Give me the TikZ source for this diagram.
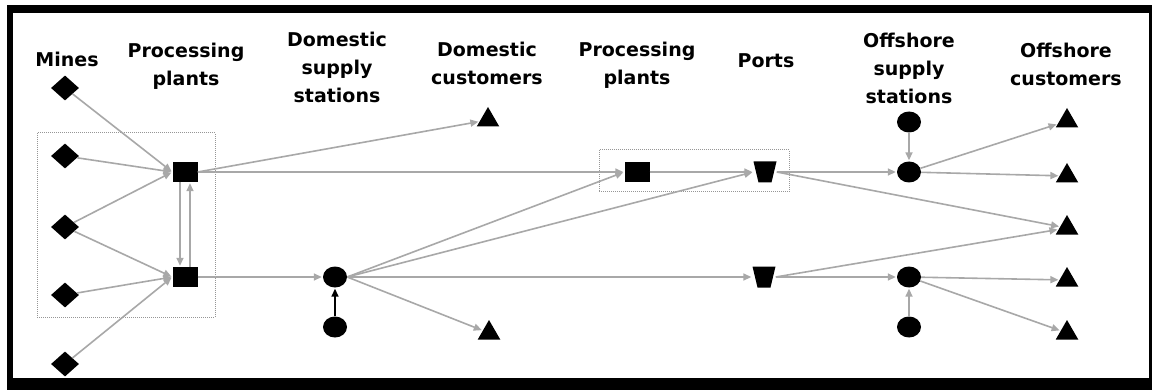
\documentclass[tikz,border=0pt]{standalone}
\usepackage{fontspec}
\setmainfont{DejaVu Sans}
\usetikzlibrary{shapes.geometric,arrows.meta}
\definecolor{flowgray}{RGB}{168,168,168}
\definecolor{boxgray}{RGB}{150,150,150}
\begin{document}
\begin{tikzpicture}[x=1pt,y=-1pt,
 mine/.style={diamond,fill=black,inner sep=0,minimum width=28pt,minimum height=25pt},
 plant/.style={rectangle,fill=black,inner sep=0,minimum width=25pt,minimum height=20pt},
 stn/.style={ellipse,fill=black,inner sep=0,minimum width=24pt,minimum height=21pt},
 cust/.style={regular polygon,regular polygon sides=3,fill=black,inner sep=0,minimum size=26pt},
 port/.style={rectangle,inner sep=0,minimum width=23pt,minimum height=21pt,
   path picture={\fill[black] (path picture bounding box.north west) -- (path picture bounding box.north east) -- ([xshift=-5pt]path picture bounding box.south east) -- ([xshift=5pt]path picture bounding box.south west) -- cycle;}},
 lbl/.style={align=center,font=\fontsize{19}{28}\selectfont\bfseries,inner sep=0,anchor=north},
 flow/.style={draw=flowgray,line width=1.6pt,-{Triangle[length=8pt,width=7pt]},shorten >=1pt},
 box/.style={draw=boxgray,line width=1pt,densely dotted}]
\useasboundingbox (0,0) rectangle (1153,390);
% frame
\fill[black] (7,5) rectangle (1152,390);
\fill[white] (13,13) rectangle (1149,378);
% labels
\node[lbl] (l1) at (67,52) {Mines};
\node[lbl] (l2) at (186,43) {Processing\\plants};
\node[lbl] (l3) at (337,32) {Domestic\\supply\\stations};
\node[lbl] (l4) at (487,42) {Domestic\\customers};
\node[lbl] (l5) at (637,42) {Processing\\plants};
\node[lbl] (l6) at (766,53) {Ports};
\node[lbl] (l7) at (909,33) {Offshore\\supply\\stations};
\node[lbl] (l8) at (1066,43) {Offshore\\customers};
% dotted groups
\draw[box] (37,133) rectangle (215,317);
\draw[box] (599,150) rectangle (789,192);
% nodes
\node[mine] (m1) at (65,88) {};
\node[mine] (m2) at (65,156) {};
\node[mine] (m3) at (65,227) {};
\node[mine] (m4) at (65,295) {};
\node[mine] (m5) at (65,364) {};
\node[plant] (pp1) at (185,172) {};
\node[plant] (pp2) at (185,277) {};
\node[stn] (dss) at (335,277) {};
\node[stn] (dssb) at (335,327) {};
\node[cust] (dc1) at (488,120) {};
\node[cust] (dc2) at (489,333) {};
\node[plant] (pp3) at (637,172) {};
\node[port] (pt1) at (765,172) {};
\node[port] (pt2) at (764,277) {};
\node[stn] (os1) at (909,122) {};
\node[stn] (os2) at (909,172) {};
\node[stn] (os3) at (909,277) {};
\node[stn] (os4) at (909,327) {};
\node[cust] (oc1) at (1067,121) {};
\node[cust] (oc2) at (1067,176) {};
\node[cust] (oc3) at (1067,228) {};
\node[cust] (oc4) at (1067,280) {};
\node[cust] (oc5) at (1067,333) {};
% flows
\draw[flow] (m1) -- (pp1.west);
\draw[flow] (m2) -- (pp1.west);
\draw[flow] (m3) -- (pp1.west);
\draw[flow] (m3) -- (pp2.west);
\draw[flow] (m4) -- (pp2.west);
\draw[flow] (m5) -- (pp2.west);
\draw[flow] ([xshift=-5pt]pp1.south) -- ([xshift=-5pt]pp2.north);
\draw[flow] ([xshift=5pt]pp2.north) -- ([xshift=5pt]pp1.south);
\draw[flow] (pp1.east) -- (dc1);
\draw[flow] (pp1.east) -- (pp3.west);
\draw[flow] (pp2.east) -- (dss.west);
\draw[flow,draw=black] (dssb) -- (dss);
\draw[flow] (dss.east) -- (pp3.west);
\draw[flow] (dss.east) -- (pt1.west);
\draw[flow] (dss.east) -- (pt2.west);
\draw[flow] (dss.east) -- (dc2);
\draw[flow] (pp3.east) -- (pt1.west);
\draw[flow] (pt1.east) -- (os2.west);
\draw[flow] (pt1.east) -- (oc3);
\draw[flow] (pt2.east) -- (oc3);
\draw[flow] (pt2.east) -- (os3.west);
\draw[flow] (os1) -- (os2);
\draw[flow] (os2) -- (oc1);
\draw[flow] (os2) -- (oc2);
\draw[flow] (os4) -- (os3);
\draw[flow] (os3) -- (oc4);
\draw[flow] (os3) -- (oc5);
\end{tikzpicture}
\end{document}
